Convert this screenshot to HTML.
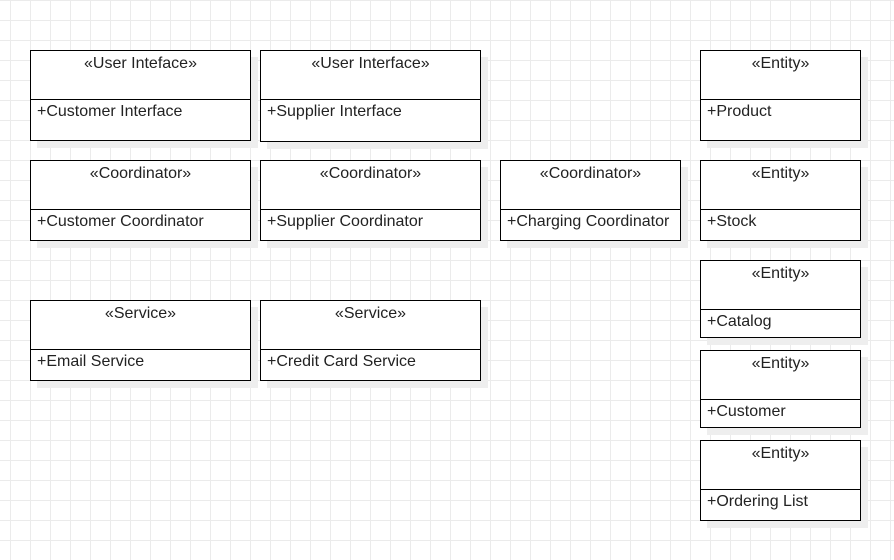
<!DOCTYPE html><html><head><style>
body{margin:0;width:894px;height:560px;overflow:hidden;background:#fff;
background-image:linear-gradient(#ebebeb 1px,transparent 1px),linear-gradient(90deg,#ebebeb 1px,transparent 1px);
background-size:20px 20px;background-position:10px 0px;font-family:"Liberation Sans",sans-serif;}
.b{position:absolute;border:1.5px solid #000;background:#fff;box-sizing:border-box;box-shadow:7px 7px 0 #eeeeee;font-size:16px;color:#222}
.h{position:absolute;left:0;right:0;top:0;text-align:center;padding-top:4px;border-bottom:1.5px solid #000;box-sizing:border-box}
.t{position:absolute;left:6px;}
</style></head><body>
<script>
const d=[
[30,50,220,90,48,"«User Inteface»","+Customer Interface"],
[260,50,220,91,48,"«User Interface»","+Supplier Interface"],
[700,50,160,90,48,"«Entity»","+Product"],
[30,160,220,80,48,"«Coordinator»","+Customer Coordinator"],
[260,160,220,80,48,"«Coordinator»","+Supplier Coordinator"],
[500,160,180,80,48,"«Coordinator»","+Charging Coordinator"],
[700,160,160,80,48,"«Entity»","+Stock"],
[30,300,220,80,48,"«Service»","+Email Service"],
[260,300,220,80,48,"«Service»","+Credit Card Service"],
[700,260,160,77,48,"«Entity»","+Catalog"],
[700,350,160,77,48,"«Entity»","+Customer"],
[700,440,160,80,48,"«Entity»","+Ordering List"]];
for(const [x,y,w,h,hh,a,b] of d){document.write(`<div class="b" style="left:${x}px;top:${y}px;width:${w+1}px;height:${h+1}px"><div class="h" style="height:${hh+1}px">${a}</div><div class="t" style="top:${hh+4}px">${b}</div></div>`)}
</script>
</body></html>
